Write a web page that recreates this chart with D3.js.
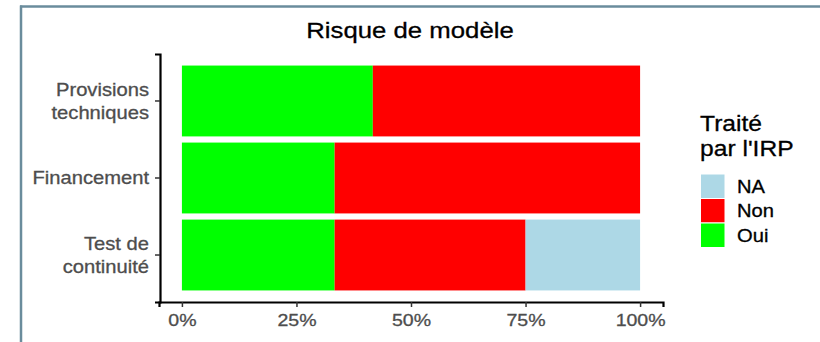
<!DOCTYPE html>
<html>
<head>
<meta charset="utf-8">
<script src="https://cdn.jsdelivr.net/npm/d3@7"></script>
<style>
  html, body { margin: 0; padding: 0; background: #fff; }
  svg { display: block; font-family: "Liberation Sans", Arial, sans-serif; }
  svg text { stroke-width: 0.3px; paint-order: stroke; }
</style>
</head>
<body>
<svg id="chart" width="820" height="342"></svg>
<script>
// Categories (top to bottom) and response shares per category
const categories = ["Provisions techniques", "Financement", "Test de continuité"];
const categoryLines = [["Provisions", "techniques"], ["Financement"], ["Test de", "continuité"]];
const responses = ["Oui", "Non", "NA"];          // stacking order, left to right
const legendOrder = ["NA", "Non", "Oui"];
const ouiValues = [5 / 12, 1 / 3, 1 / 3];
const nonValues = [7 / 12, 2 / 3, 5 / 12];
const naValues  = [0, 0, 1 / 4];
const xTicks = [0, 0.25, 0.5, 0.75, 1];
const xTickLabels = ["0%", "25%", "50%", "75%", "100%"];
const title = "Risque de modèle";
const legendTitle = ["Traité", "par l'IRP"];

const colors = { Oui: "#00ff00", Non: "#ff0000", NA: "#add8e6" };
const SX = 1.12;   // slightly wide lettering

const svg = d3.select("#chart");

// places a horizontally widened text at (x, y)
function wideText(parent, x, y, sx) {
  return parent.append("g").attr("transform", `translate(${x},${y}) scale(${sx},1)`)
    .append("text");
}

// frame lines along the top and left edges
svg.append("line").attr("x1", 20).attr("x2", 820).attr("y1", 6.5).attr("y2", 6.5)
  .attr("stroke", "#6a8c9c").attr("stroke-width", 2.5);
svg.append("line").attr("x1", 21).attr("x2", 21).attr("y1", 5.5).attr("y2", 342)
  .attr("stroke", "#6a8c9c").attr("stroke-width", 2.5);

const x = d3.scaleLinear().domain([-0.05, 1.05]).range([159, 663]);
const y = d3.scaleBand().domain(categories).range([54, 302])
  .paddingInner(0.08).paddingOuter(0.15);

// stacked rows
const rows = categories.map((c, i) => ({ cat: c, Oui: ouiValues[i], Non: nonValues[i], NA: naValues[i] }));
const stacked = d3.stack().keys(responses)(rows);

svg.append("g").selectAll("g").data(stacked).join("g")
  .attr("fill", d => colors[d.key])
  .selectAll("rect").data(d => d.filter(p => p[1] - p[0] > 0)).join("rect")
  .attr("x", d => x(d[0]))
  .attr("width", d => x(d[1]) - x(d[0]))
  .attr("y", d => y(d.data.cat))
  .attr("height", y.bandwidth());

// x axis
const xAxis = svg.append("g").attr("transform", "translate(0,302)")
  .call(d3.axisBottom(x).tickValues(xTicks)
    .tickFormat((d, i) => xTickLabels[i]).tickSizeOuter(0).tickSize(5).tickPadding(7));
xAxis.select(".domain").attr("stroke", "#000").attr("stroke-width", 2.2);
xAxis.selectAll(".tick line").attr("stroke", "#333").attr("stroke-width", 1.5);
xAxis.selectAll(".tick text").attr("fill", "#4d4d4d").attr("stroke", "#4d4d4d")
  .attr("font-size", 17)
  .attr("font-family", "Liberation Sans, Arial, sans-serif")
  .attr("transform", "scale(1.15,1)");

// y axis with wrapped labels
const yAxis = svg.append("g").attr("transform", "translate(160,0)")
  .call(d3.axisLeft(y).tickSizeOuter(0).tickSize(5).tickFormat(""));
yAxis.select(".domain").attr("stroke", "#000").attr("stroke-width", 2.2);
yAxis.selectAll(".tick line").attr("stroke", "#333").attr("stroke-width", 1.5);
yAxis.selectAll(".tick").each(function (d, i) {
  const lines = categoryLines[i];
  const lh = 23.5;
  const t = wideText(d3.select(this), -11, 0, SX)
    .attr("fill", "#4d4d4d").attr("stroke", "#4d4d4d").attr("font-size", 18)
    .attr("font-family", "Liberation Sans, Arial, sans-serif")
    .attr("text-anchor", "end");
  lines.forEach((ln, j) => {
    t.append("tspan").attr("x", 0)
      .attr("y", (j - (lines.length - 1) / 2) * lh)
      .attr("dy", "0.35em").text(ln);
  });
});

// title
wideText(svg, 410, 38, SX).attr("text-anchor", "middle")
  .attr("font-size", 23).attr("fill", "#000").attr("stroke", "#000").text(title);

// legend
const lg = svg.append("g").attr("transform", "translate(700,0)");
legendTitle.forEach((t, i) => {
  wideText(lg, 0, 131 + i * 25, SX).attr("font-size", 22)
    .attr("fill", "#000").attr("stroke", "#000").text(t);
});
const keySize = 24.5;
legendOrder.forEach((k, i) => {
  const ky = 174 + i * keySize;
  lg.append("rect").attr("x", 0.5).attr("y", ky).attr("width", keySize).attr("height", keySize)
    .attr("fill", colors[k]).attr("stroke", "#fff").attr("stroke-width", 1);
  wideText(lg, 37, ky + keySize / 2, SX).attr("dy", "0.35em")
    .attr("font-size", 18).attr("fill", "#000").attr("stroke", "#000").text(k);
});
</script>
</body>
</html>
